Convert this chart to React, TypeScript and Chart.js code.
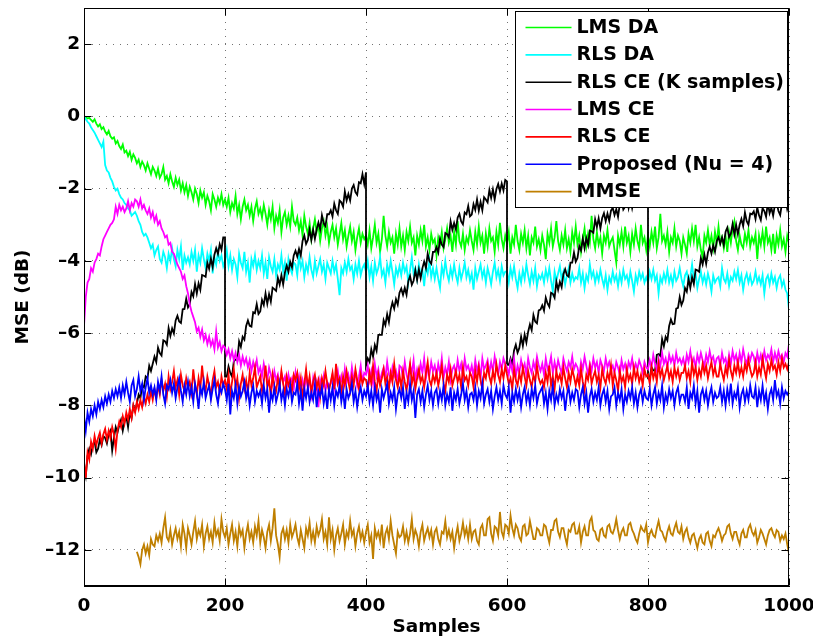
import React, { useEffect, useRef } from 'react';
import { Chart, registerables } from 'chart.js';

Chart.register(...registerables);

// ---- data (one value every SAMPLE_STEP samples, x = index * SAMPLE_STEP; 20 values per 50 samples) ----
const SAMPLE_STEP = 2.5;
const xTickValues = [0, 200, 400, 600, 800, 1000];
const yTickValues = [-12, -10, -8, -6, -4, -2, 0, 2];
const seriesNames = ['LMS DA', 'RLS DA', 'RLS CE (K samples)', 'LMS CE', 'RLS CE', 'Proposed (Nu = 4)', 'MMSE'];
const seriesColors = ['#00ff00', '#00ffff', '#000000', '#ff00ff', '#ff0000', '#0000ff', '#bf7f00'];

const lmsDA = [
  0, -0.02, -0.06, -0.04, -0.1, -0.15, -0.08, -0.2, -0.28, -0.22, -0.35, -0.3, -0.42, -0.5, -0.4, -0.55, -0.62, -0.58, -0.75, -0.68,
  -0.82, -0.9, -0.78, -1.0, -0.95, -1.1, -0.98, -1.2, -1.05, -1.15, -1.3, -1.2, -1.4, -1.25, -1.35, -1.5, -1.3, -1.45, -1.6, -1.4,
  -1.5, -1.65, -1.45, -1.7, -1.6, -1.4, -1.75, -1.65, -1.85, -1.6, -1.8, -1.95, -1.7, -1.9, -1.75, -2.05, -1.85, -2.1, -1.9, -2.2,
  -1.95, -2.1, -2.3, -2.0, -2.15, -2.4, -2.05, -2.25, -2.1, -2.45, -2.2, -2.35, -2.6, -2.15, -2.3, -2.5, -2.25, -2.4, -2.15, -2.45,
  -2.3, -2.5, -2.25, -2.65, -2.4, -2.55, -2.2, -2.7, -2.45, -2.85, -2.5, -2.3, -2.6, -2.45, -2.75, -2.5, -2.9, -2.55, -2.35, -2.7,
  -2.55, -2.8, -2.45, -2.7, -3.0, -2.6, -2.85, -2.5, -3.1, -2.75, -2.95, -2.6, -3.2, -2.8, -2.65, -3.0, -2.75, -3.05, -2.5, -2.9,
  -3.0, -2.8, -3.15, -2.9, -3.3, -2.75, -3.05, -3.25, -2.95, -3.4, -3.1, -2.85, -3.2, -3.0, -3.45, -3.1, -2.9, -3.3, -3.05, -3.5,
  -3.2, -3.0, -3.35, -3.1, -3.55, -3.25, -2.95, -3.4, -3.15, -3.6, -3.3, -3.05, -3.45, -3.2, -3.7, -3.35, -3.1, -3.5, -3.25, -3.4,
  -3.3, -3.55, -3.15, -3.65, -3.35, -3.0, -3.5, -3.25, -3.75, -3.4, -2.75, -3.3, -3.6, -3.2, -3.5, -3.35, -3.8, -3.25, -3.55, -3.1,
  -3.6, -3.3, -3.7, -3.2, -3.45, -3.05, -3.5, -3.35, -3.85, -3.3, -3.55, -3.15, -3.45, -3.0, -3.6, -3.35, -3.7, -3.25, -3.5, -3.4,
  -3.85, -3.35, -3.55, -3.2, -3.65, -3.4, -3.1, -3.5, -3.3, -3.75, -3.2, -3.55, -2.9, -3.45, -3.6, -3.25, -3.7, -3.35, -3.5, -3.15,
  -3.45, -3.7, -3.2, -3.55, -3.05, -3.5, -3.3, -3.8, -3.25, -3.6, -3.1, -3.45, -3.35, -3.75, -3.2, -3.55, -2.95, -3.4, -3.65, -3.3,
  -3.5, -3.2, -3.8, -3.35, -3.55, -3.0, -3.45, -3.7, -3.25, -3.5, -3.15, -3.65, -3.3, -3.85, -3.35, -3.5, -3.05, -3.6, -3.4, -3.7,
  -3.3, -3.55, -3.95, -3.25, -3.5, -3.1, -3.6, -3.35, -2.9, -3.45, -3.7, -3.3, -3.55, -3.15, -3.65, -3.4, -3.75, -3.2, -3.5, -3.05,
  -3.55, -3.3, -3.75, -3.4, -3.1, -3.6, -3.25, -3.5, -2.75, -3.4, -3.65, -3.2, -3.55, -3.35, -3.8, -3.3, -3.5, -3.15, -3.6, -3.45,
  -3.35, -3.7, -4.05, -3.3, -3.55, -3.2, -3.6, -3.05, -3.5, -3.3, -3.75, -3.25, -3.55, -3.1, -3.45, -3.65, -3.0, -3.5, -3.35, -3.7,
  -3.3, -3.6, -3.2, -3.5, -3.05, -3.65, -3.35, -2.7, -3.45, -3.3, -3.55, -3.2, -3.75, -3.35, -3.5, -3.1, -3.6, -3.3, -3.45, -3.8,
  -3.35, -3.55, -3.8, -3.25, -3.5, -3.1, -3.45, -3.0, -3.6, -3.35, -3.7, -3.9, -3.3, -3.5, -3.15, -3.55, -3.3, -3.65, -3.2, -3.5,
  -3.05, -3.5, -3.35, -3.65, -3.3, -3.75, -3.2, -3.5, -3.1, -2.9, -3.45, -3.7, -3.3, -3.55, -3.65, -3.25, -3.5, -3.15, -3.6, -3.35,
  -3.5, -3.25, -3.95, -3.3, -3.55, -3.2, -3.6, -3.05, -3.5, -3.35, -3.7, -3.25, -3.8, -3.3, -3.55, -3.15, -3.6, -3.4, -3.75, -3.3,
  -3.5,
];

const rlsDA = [
  0, -0.08, -0.15, -0.2, -0.3, -0.38, -0.45, -0.55, -0.65, -0.75, -0.85, -0.7, -1.35, -1.5, -1.55, -1.7, -1.8, -1.95, -2.05, -2.0,
  -2.15, -2.25, -2.3, -2.4, -2.45, -2.55, -2.6, -2.75, -2.7, -2.65, -2.75, -2.9, -3.0, -3.2, -3.3, -3.25, -3.35, -3.5, -3.65, -3.55,
  -3.85, -3.7, -3.6, -3.95, -4.05, -3.75, -3.9, -4.2, -3.8, -4.0, -3.65, -3.95, -4.15, -3.7, -3.95, -3.6, -4.25, -3.85, -4.05, -3.9,
  -4.1, -3.75, -4.0, -3.7, -4.3, -3.85, -4.05, -3.65, -3.95, -4.2, -3.8, -4.0, -3.7, -4.35, -3.9, -4.1, -3.75, -4.0, -3.85, -4.15,
  -4.0, -3.7, -4.15, -3.85, -4.25, -3.95, -4.1, -4.45, -3.8, -4.05, -4.2, -3.75, -4.3, -4.05, -4.6, -3.95, -4.15, -3.85, -4.25, -4.0,
  -4.2, -3.85, -4.35, -4.05, -4.5, -3.9, -4.15, -4.3, -3.95, -4.4, -4.1, -4.25, -3.85, -4.3, -4.05, -4.55, -3.95, -4.2, -4.35, -4.05,
  -4.1, -4.4, -3.85, -4.2, -4.0, -4.45, -4.1, -4.3, -3.9, -4.25, -4.45, -4.0, -4.35, -4.15, -3.95, -4.3, -4.1, -4.5, -4.05, -4.2,
  -4.35, -4.0, -4.3, -4.1, -4.5, -4.95, -4.2, -4.35, -4.05, -4.3, -3.95, -4.25, -4.15, -4.5, -4.1, -4.35, -4.0, -4.4, -4.2, -4.1,
  -4.3, -4.0, -4.45, -4.15, -4.55, -4.05, -4.35, -4.2, -3.9, -4.4, -4.25, -4.6, -4.1, -4.35, -4.0, -4.3, -4.65, -4.2, -4.4, -4.15,
  -4.4, -4.05, -4.3, -4.15, -4.6, -4.25, -3.9, -4.35, -4.2, -4.5, -4.1, -4.4, -4.25, -4.7, -4.15, -4.35, -4.0, -4.45, -4.2, -4.5,
  -4.2, -4.5, -4.75, -4.15, -4.4, -4.0, -4.35, -4.55, -4.2, -4.45, -4.1, -4.4, -4.6, -4.2, -4.5, -4.3, -4.05, -4.45, -4.25, -4.55,
  -4.35, -4.8, -4.2, -4.5, -4.3, -4.1, -4.45, -4.25, -4.6, -4.2, -4.4, -4.65, -4.3, -4.05, -4.45, -4.25, -4.55, -4.15, -4.4, -4.3,
  -4.3, -4.6, -4.2, -4.45, -4.15, -4.5, -4.75, -4.35, -4.6, -4.25, -4.5, -4.1, -4.4, -4.65, -4.3, -4.55, -4.2, -4.7, -4.4, -4.5,
  -4.35, -4.6, -4.25, -4.5, -4.2, -4.55, -4.85, -4.3, -4.55, -4.35, -4.15, -4.5, -4.3, -4.65, -4.4, -4.2, -4.6, -4.35, -4.55, -4.45,
  -4.5, -4.2, -4.6, -4.35, -4.75, -4.4, -4.55, -4.1, -4.45, -4.3, -4.6, -4.35, -4.55, -4.25, -4.5, -4.7, -4.4, -4.8, -4.45, -4.6,
  -4.3, -4.55, -4.4, -4.7, -4.35, -4.6, -4.25, -4.5, -4.4, -4.65, -4.3, -4.55, -4.85, -4.4, -4.6, -4.3, -4.5, -4.35, -4.6, -4.45,
  -4.6, -4.3, -4.5, -4.25, -4.55, -4.4, -4.9, -4.45, -4.6, -4.35, -4.55, -4.25, -4.6, -4.4, -4.65, -4.3, -4.55, -4.45, -4.2, -4.5,
  -4.7, -4.4, -4.3, -4.6, -4.45, -4.1, -4.5, -4.35, -4.75, -4.5, -4.3, -4.6, -4.4, -4.65, -4.35, -4.55, -4.85, -4.4, -4.6, -4.5,
  -4.45, -4.7, -4.2, -4.5, -4.6, -4.35, -4.7, -4.45, -4.55, -4.3, -4.5, -4.25, -4.6, -4.4, -4.8, -4.5, -4.35, -4.6, -4.4, -4.65,
  -4.55, -4.3, -4.6, -4.45, -4.65, -4.4, -4.9, -4.5, -4.4, -4.65, -4.35, -4.6, -4.45, -4.75, -4.5, -4.4, -4.7, -4.55, -4.8, -4.9,
  -5.35,
];

const rlsCeK = [
  -9.7, -9.95, -9.4, -9.2, -9.35, -9.1, -9.0, -9.3, -9.2, -8.95, -9.1, -8.85, -8.9, -9.05, -8.8, -8.7, -9.25, -8.9, -8.6, -8.75,
  -8.55, -8.4, -8.7, -8.45, -8.3, -8.6, -8.2, -8.35, -8.0, -8.15, -7.95, -7.7, -7.8, -7.45, -7.5, -7.2, -7.25, -6.9, -7.05, -6.85,
  -6.65, -6.8, -6.4, -6.55, -6.62, -6.2, -6.23, -6.32, -5.86, -6.08, -5.87, -6.01, -5.65, -5.52, -5.68, -5.72, -5.34, -5.33, -5.05, -5.29,
  -5.2, -4.86, -4.98, -4.64, -4.9, -4.62, -4.8, -4.39, -4.41, -4.44, -4.05, -4.22, -3.94, -4.17, -3.83, -3.65, -3.81, -3.54, -3.69, -3.35,
  -3.35, -7.2, -6.92, -7.1, -7.2, -6.78, -6.73, -6.75, -6.23, -6.38, -6.1, -6.18, -5.8, -5.65, -5.8, -5.82, -5.42, -5.45, -5.2, -5.47,
  -5.4, -5.08, -5.22, -4.9, -5.19, -4.92, -5.13, -4.74, -4.78, -4.83, -4.47, -4.66, -4.4, -4.65, -4.32, -4.13, -4.3, -4.03, -4.18, -3.85,
  -3.72, -3.88, -3.67, -3.85, -3.45, -3.3, -3.53, -3.42, -3.14, -3.42, -3.14, -3.39, -3.12, -2.94, -3.13, -2.74, -2.96, -3.04, -2.71, -2.71,
  -2.6, -2.77, -2.42, -2.6, -2.7, -2.33, -2.38, -2.5, -2.08, -2.33, -2.15, -2.33, -2.0, -1.9, -2.1, -2.17, -1.82, -1.85, -1.6, -1.87,
  -1.55, -6.7, -6.8, -6.45, -6.65, -6.33, -6.49, -6.05, -6.05, -6.05, -5.64, -5.78, -5.48, -5.7, -5.35, -5.15, -5.32, -5.06, -5.21, -4.88,
  -4.77, -4.94, -4.75, -4.94, -4.56, -4.42, -4.66, -4.55, -4.26, -4.53, -4.24, -4.48, -4.2, -4.02, -4.2, -3.8, -4.01, -4.08, -3.75, -3.75,
  -3.62, -3.77, -3.39, -3.55, -3.62, -3.23, -3.26, -3.35, -2.91, -3.14, -2.95, -3.13, -2.8, -2.7, -2.91, -2.99, -2.66, -2.71, -2.48, -2.77,
  -2.72, -2.43, -2.59, -2.3, -2.61, -2.37, -2.6, -2.24, -2.3, -2.38, -2.04, -2.26, -2.02, -2.3, -2.01, -1.87, -2.08, -1.86, -2.05, -1.76,
  -1.8, -6.88, -6.7, -6.88, -6.48, -6.32, -6.54, -6.41, -6.1, -6.35, -6.04, -6.26, -5.96, -5.76, -5.92, -5.5, -5.68, -5.73, -5.37, -5.35,
  -5.23, -5.38, -5.02, -5.18, -5.27, -4.88, -4.91, -5.02, -4.58, -4.8, -4.58, -4.73, -4.37, -4.23, -4.4, -4.44, -4.05, -4.05, -3.77, -4.02,
  -3.92, -3.59, -3.71, -3.38, -3.65, -3.37, -3.56, -3.16, -3.18, -3.22, -2.85, -3.06, -2.82, -3.1, -2.81, -2.68, -2.9, -2.69, -2.89, -2.61,
  -2.53, -2.73, -2.57, -2.78, -2.43, -2.32, -2.58, -2.5, -2.24, -2.53, -2.27, -2.54, -2.28, -2.13, -2.34, -1.96, -2.2, -2.3, -1.98, -2.0,
  -1.95, -7.25, -6.94, -7.03, -7.05, -6.6, -6.58, -6.63, -6.16, -6.36, -6.1, -6.2, -5.8, -5.62, -5.75, -5.74, -5.32, -5.3, -5.0, -5.22,
  -5.1, -4.75, -4.85, -4.5, -4.75, -4.45, -4.64, -4.24, -4.26, -4.3, -3.92, -4.1, -3.83, -4.08, -3.77, -3.61, -3.8, -3.57, -3.75, -3.45,
  -3.35, -3.53, -3.35, -3.56, -3.2, -3.08, -3.34, -3.25, -2.98, -3.27, -3.0, -3.26, -3.0, -2.84, -3.04, -2.66, -2.9, -3.0, -2.69, -2.71,
  -2.63, -2.84, -2.52, -2.74, -2.87, -2.54, -2.62, -2.78, -2.39, -2.68, -2.53, -2.75, -2.45, -2.39, -2.62, -2.73, -2.41, -2.48, -2.26, -2.57,
  -2.4,
];
// re-training instants of "RLS CE (K samples)" and the MSE right after them
const rlsCeKResets = [200, 400, 600, 800];
const rlsCeKResetLows = [-7.2, -6.9, -6.85, -7.25];

const lmsCE = [
  -5.8, -5.0, -4.6, -4.5, -4.2, -4.3, -4.05, -3.95, -3.8, -3.85, -3.6, -3.4, -3.3, -3.2, -3.1, -3.0, -2.95, -2.85, -2.5, -2.7,
  -2.45, -2.6, -2.5, -2.65, -2.55, -2.35, -2.6, -2.4, -2.5, -2.3, -2.35, -2.5, -2.3, -2.55, -2.45, -2.6, -2.7, -2.55, -2.8, -2.65,
  -2.9, -2.75, -3.0, -2.9, -3.1, -3.2, -3.35, -3.3, -3.55, -3.5, -3.75, -3.8, -3.95, -4.1, -4.2, -4.3, -4.5, -4.4, -4.7, -4.9,
  -5.2, -5.4, -5.55, -5.7, -5.95, -5.85, -6.1, -5.9, -6.2, -6.05, -6.3, -6.1, -6.35, -6.2, -6.45, -5.95, -6.4, -6.25, -6.5, -6.35,
  -6.4, -6.6, -6.45, -6.7, -6.5, -6.75, -6.55, -6.8, -6.6, -6.9, -6.65, -6.85, -6.7, -6.95, -6.75, -7.05, -6.8, -7.0, -6.75, -7.1,
  -6.95, -7.2, -6.85, -7.1, -7.3, -6.95, -7.15, -7.4, -7.05, -7.3, -7.15, -7.45, -7.1, -7.35, -7.2, -7.5, -7.15, -7.4, -7.25, -7.55,
  -7.1, -7.45, -7.2, -7.55, -7.3, -7.6, -7.15, -7.5, -7.3, -7.7, -7.25, -7.55, -7.35, -8.05, -7.3, -7.5, -7.2, -7.6, -7.35, -7.45,
  -7.4, -7.15, -7.55, -7.3, -7.05, -7.45, -7.2, -7.5, -7.0, -7.35, -7.15, -7.4, -6.95, -7.3, -7.1, -7.45, -7.2, -6.9, -7.35, -7.1,
  -7.15, -6.9, -7.3, -7.05, -7.4, -6.85, -7.2, -7.0, -7.35, -7.1, -6.95, -7.25, -6.8, -7.15, -7.3, -6.95, -7.2, -7.05, -7.35, -6.9,
  -6.95, -7.25, -6.8, -7.15, -7.35, -6.9, -7.1, -6.75, -7.3, -7.0, -7.2, -6.85, -7.1, -6.7, -7.25, -6.95, -7.15, -6.8, -7.05, -6.9,
  -7.2, -6.85, -7.1, -6.7, -7.25, -6.95, -7.15, -6.8, -7.3, -7.0, -6.9, -7.15, -6.75, -7.05, -6.85, -7.2, -6.7, -7.0, -6.9, -7.1,
  -6.9, -7.2, -6.75, -7.05, -6.85, -7.25, -6.7, -7.0, -6.9, -6.75, -7.1, -6.8, -7.05, -6.65, -6.95, -7.15, -6.8, -7.0, -6.7, -6.85,
  -6.95, -7.15, -6.8, -7.05, -6.7, -7.2, -6.9, -7.1, -6.75, -7.0, -6.85, -7.15, -6.7, -6.95, -7.1, -6.8, -7.0, -6.65, -6.9, -7.05,
  -6.85, -7.15, -6.7, -7.0, -6.9, -6.65, -7.1, -6.8, -7.05, -6.75, -6.95, -7.1, -6.7, -6.9, -7.05, -6.8, -6.95, -6.65, -7.0, -6.85,
  -6.95, -7.2, -6.8, -7.0, -6.65, -6.9, -7.15, -6.85, -7.05, -6.7, -6.95, -6.8, -7.1, -6.75, -6.9, -7.05, -6.7, -6.95, -6.8, -7.0,
  -6.9, -7.1, -6.8, -6.95, -7.15, -6.75, -7.0, -6.85, -7.1, -6.8, -6.95, -6.7, -7.05, -6.85, -7.0, -6.75, -6.9, -7.1, -6.8, -6.95,
  -7.0, -6.75, -6.95, -6.6, -6.85, -7.05, -6.7, -6.9, -6.55, -6.85, -6.7, -6.95, -6.6, -6.8, -6.65, -6.9, -6.55, -6.8, -6.7, -6.85,
  -6.7, -6.95, -6.6, -6.8, -6.5, -6.85, -6.7, -6.95, -6.6, -6.8, -6.55, -6.75, -6.9, -6.6, -6.8, -6.5, -6.75, -6.65, -6.9, -6.7,
  -6.65, -6.9, -6.55, -6.8, -6.7, -6.95, -6.6, -6.85, -6.5, -6.75, -6.6, -6.9, -6.55, -6.8, -6.45, -6.7, -6.85, -6.6, -6.75, -6.55,
  -6.65, -6.9, -6.55, -6.8, -6.6, -6.85, -6.5, -6.75, -6.6, -6.7, -6.45, -6.8, -6.55, -6.75, -6.5, -6.7, -6.6, -6.8, -6.55, -6.65,
  -6.3,
];

const rlsCE = [
  -9.6, -10.0, -9.3, -9.5, -9.0, -9.2, -8.85, -9.1, -8.9, -8.75, -9.05, -8.8, -8.65, -8.95, -8.7, -8.9, -8.6, -8.8, -9.2, -8.7,
  -8.45, -8.6, -8.3, -8.5, -8.2, -8.4, -8.1, -8.35, -8.0, -8.2, -7.9, -8.1, -7.85, -8.05, -7.75, -7.95, -7.7, -7.9, -7.6, -7.85,
  -7.55, -7.8, -7.45, -7.7, -7.3, -7.6, -7.4, -7.75, -7.2, -7.55, -7.35, -7.05, -7.5, -7.3, -7.7, -7.15, -7.45, -7.6, -7.25, -7.5,
  -7.35, -7.65, -7.0, -7.45, -7.7, -7.25, -7.55, -6.9, -7.4, -7.6, -7.2, -7.45, -7.75, -7.3, -7.05, -7.5, -7.35, -7.65, -7.2, -7.45,
  -7.3, -7.55, -7.15, -7.7, -7.35, -7.0, -7.5, -7.25, -7.8, -7.4, -7.15, -7.55, -7.3, -7.65, -7.1, -7.45, -7.25, -6.95, -7.5, -7.35,
  -7.2, -7.6, -7.35, -6.9, -7.5, -7.3, -7.75, -7.15, -7.45, -7.6, -7.25, -7.5, -7.05, -7.4, -7.7, -7.2, -7.45, -7.3, -7.6, -7.15,
  -7.3, -7.1, -7.55, -7.25, -7.8, -7.4, -7.0, -7.5, -7.2, -7.65, -7.35, -7.15, -7.5, -7.3, -7.75, -7.25, -7.45, -7.05, -7.4, -7.6,
  -7.35, -7.1, -7.55, -6.85, -7.4, -7.25, -7.7, -7.2, -7.45, -7.05, -7.35, -7.6, -7.2, -7.45, -7.0, -7.3, -7.55, -7.15, -7.4, -7.25,
  -7.3, -7.55, -7.1, -7.4, -6.9, -7.35, -7.6, -7.15, -7.45, -7.25, -7.0, -7.4, -7.2, -7.55, -7.1, -7.35, -6.85, -7.3, -7.5, -7.15,
  -7.5, -7.05, -7.35, -7.6, -7.2, -6.85, -7.4, -7.15, -7.55, -7.25, -7.0, -7.35, -7.2, -7.5, -7.1, -6.8, -7.3, -7.45, -7.15, -7.35,
  -7.1, -7.45, -7.2, -6.9, -7.4, -7.6, -7.15, -7.35, -7.0, -7.45, -7.25, -7.05, -7.35, -7.15, -7.5, -6.95, -7.3, -7.2, -7.45, -7.1,
  -7.2, -7.5, -7.05, -7.35, -6.95, -7.3, -7.55, -7.1, -7.25, -6.9, -7.2, -7.4, -7.05, -7.3, -6.85, -7.15, -7.35, -7.0, -7.25, -6.9,
  -7.15, -7.4, -7.25, -7.55, -7.0, -7.3, -7.45, -7.1, -7.35, -6.95, -7.2, -7.45, -7.05, -7.3, -7.5, -7.15, -7.35, -6.9, -7.25, -7.4,
  -7.3, -7.5, -7.1, -7.35, -6.9, -7.45, -7.2, -7.55, -7.05, -7.3, -7.15, -7.4, -6.95, -7.25, -7.5, -7.1, -7.35, -7.0, -7.2, -7.45,
  -7.2, -7.45, -7.0, -7.35, -7.6, -7.15, -7.3, -6.95, -7.4, -7.2, -7.05, -7.35, -7.15, -7.5, -7.0, -7.25, -7.4, -7.1, -7.3, -6.9,
  -7.45, -7.1, -7.3, -7.6, -7.05, -7.35, -7.2, -7.5, -7.0, -7.3, -7.15, -7.4, -6.95, -7.25, -7.05, -7.35, -7.15, -7.45, -7.0, -7.2,
  -7.15, -7.4, -6.95, -7.25, -7.05, -7.35, -6.85, -7.2, -7.0, -7.3, -7.1, -6.9, -7.25, -7.05, -7.35, -6.95, -7.2, -7.0, -7.3, -7.1,
  -7.1, -6.9, -7.25, -7.05, -7.35, -6.8, -7.15, -6.95, -7.3, -7.0, -7.2, -6.85, -7.1, -6.9, -7.25, -7.0, -6.8, -7.15, -6.95, -7.2,
  -7.2, -6.85, -7.1, -7.3, -6.95, -7.15, -6.75, -7.05, -7.25, -6.9, -7.1, -6.8, -7.15, -6.95, -7.2, -6.85, -7.05, -6.75, -7.0, -7.2,
  -7.1, -6.8, -7.2, -6.95, -7.15, -6.7, -7.0, -7.25, -6.85, -7.05, -6.75, -7.0, -6.9, -7.15, -6.8, -7.05, -6.7, -6.95, -6.85, -7.0,
  -6.8,
];

const proposed = [
  -8.3, -8.7, -8.2, -8.45, -8.1, -8.3, -8.0, -8.25, -7.9, -8.1, -7.85, -8.05, -7.75, -7.95, -7.7, -7.9, -7.6, -7.8, -7.55, -7.75,
  -7.5, -7.8, -7.45, -7.7, -7.35, -7.65, -7.9, -7.45, -7.3, -7.75, -7.55, -7.2, -7.6, -7.4, -7.85, -7.5, -7.25, -7.65, -7.45, -7.7,
  -7.5, -7.85, -7.35, -7.6, -7.2, -7.7, -7.95, -7.45, -7.55, -7.3, -7.65, -7.4, -7.8, -7.5, -7.25, -7.6, -7.9, -7.45, -7.7, -7.35,
  -7.75, -7.5, -7.9, -7.4, -7.65, -8.1, -7.5, -7.7, -7.35, -7.8, -7.6, -7.45, -7.85, -7.55, -7.3, -7.7, -7.95, -7.5, -7.65, -7.4,
  -7.55, -7.85, -7.4, -8.25, -7.6, -7.8, -7.45, -7.95, -7.5, -7.75, -7.6, -7.35, -7.8, -7.55, -8.0, -7.65, -7.45, -7.9, -7.6, -7.75,
  -7.6, -7.95, -7.45, -7.8, -7.55, -8.2, -7.65, -7.85, -7.5, -7.9, -7.7, -7.4, -7.85, -7.6, -8.0, -7.55, -7.75, -7.45, -7.9, -7.65,
  -7.7, -7.4, -7.95, -7.6, -8.15, -7.55, -7.8, -7.5, -7.9, -7.65, -7.85, -7.45, -8.05, -7.6, -7.75, -7.5, -7.95, -7.65, -8.1, -7.55,
  -7.85, -7.5, -8.0, -7.6, -7.75, -7.45, -7.9, -7.6, -8.1, -7.55, -7.8, -7.65, -7.4, -7.9, -7.6, -8.05, -7.7, -7.5, -7.85, -7.6,
  -7.75, -7.45, -7.9, -7.6, -8.0, -7.5, -7.85, -7.65, -8.2, -7.55, -7.8, -7.6, -7.4, -7.95, -7.65, -7.85, -7.5, -8.1, -7.7, -7.55,
  -7.8, -7.5, -8.1, -7.65, -7.9, -7.4, -7.85, -7.6, -8.35, -7.7, -7.55, -7.9, -7.6, -8.05, -7.7, -7.45, -7.85, -7.6, -8.0, -7.65,
  -7.55, -7.95, -7.6, -7.85, -7.45, -8.0, -7.7, -7.9, -7.5, -8.15, -7.65, -7.85, -7.55, -7.95, -7.7, -7.4, -7.85, -7.6, -8.05, -7.7,
  -7.65, -7.85, -7.5, -8.0, -7.6, -7.8, -7.4, -7.95, -7.7, -7.55, -7.9, -7.6, -8.1, -7.75, -7.5, -7.85, -7.6, -7.95, -7.45, -7.7,
  -7.8, -7.5, -8.2, -7.65, -7.9, -7.55, -7.85, -7.6, -8.05, -7.7, -7.5, -7.9, -7.65, -8.0, -7.55, -7.8, -7.45, -7.95, -7.7, -7.6,
  -7.5, -7.95, -7.65, -8.1, -7.6, -7.85, -7.45, -8.0, -7.7, -7.9, -7.55, -7.8, -7.6, -8.15, -7.7, -7.5, -7.9, -7.65, -7.85, -7.55,
  -7.6, -8.05, -7.7, -7.5, -7.95, -7.65, -8.2, -7.75, -7.55, -7.9, -7.65, -7.85, -7.5, -8.0, -7.7, -7.55, -7.9, -7.6, -8.1, -7.75,
  -7.7, -7.5, -8.0, -7.65, -7.85, -7.55, -8.1, -7.7, -7.9, -7.6, -7.8, -7.5, -7.95, -7.65, -8.05, -7.7, -7.55, -7.9, -7.6, -7.8,
  -7.85, -7.55, -8.0, -7.7, -7.5, -7.95, -7.65, -7.85, -7.45, -8.05, -7.7, -7.9, -7.55, -7.8, -7.6, -8.0, -7.65, -7.5, -7.9, -7.7,
  -7.7, -7.9, -7.5, -8.1, -7.65, -7.8, -7.45, -7.95, -7.6, -8.2, -7.7, -7.55, -7.85, -7.6, -8.0, -7.7, -7.5, -7.9, -7.65, -7.8,
  -7.75, -7.5, -7.9, -7.6, -8.0, -7.55, -7.85, -7.4, -7.95, -7.65, -7.8, -7.5, -8.05, -7.7, -7.55, -7.9, -7.6, -7.85, -7.45, -7.75,
  -7.8, -7.5, -8.05, -7.6, -7.85, -7.45, -7.9, -7.65, -8.1, -7.7, -7.55, -7.85, -7.3, -7.75, -7.6, -7.95, -7.5, -7.8, -7.6, -7.7,
  -7.6,
];

const mmse = [
  null, null, null, null, null, null, null, null, null, null, null, null, null, null, null, null, null, null, null, null,
  null, null, null, null, null, null, null, null, null, null, -12.05, -12.2, -12.4, -12.0, -11.85, -12.1, -11.9, -12.15, -11.7, -11.85,
  -11.9, -11.6, -11.75, -11.55, -11.8, -11.4, -11.1, -11.65, -11.75, -11.45, -11.85, -11.6, -11.4, -11.7, -11.5, -11.9, -11.3, -11.55, -11.95, -11.4,
  -11.6, -11.85, -11.5, -11.2, -11.7, -11.45, -11.6, -11.3, -11.9, -11.55, -11.35, -11.7, -11.5, -11.8, -11.25, -11.6, -11.45, -11.75, -11.15, -11.5,
  -11.65, -11.4, -11.85, -11.55, -11.3, -11.75, -11.5, -11.9, -11.35, -11.6, -11.45, -11.95, -11.55, -11.3, -11.7, -11.5, -11.8, -11.35, -11.6, -11.2,
  -11.8, -11.45, -11.65, -11.95, -11.5, -11.3, -11.75, -11.4, -10.85, -11.6, -11.85, -12.2, -11.55, -11.4, -11.7, -11.45, -11.8, -11.3, -11.65, -11.5,
  -11.3, -11.65, -11.85, -11.45, -11.7, -11.95, -11.4, -11.6, -11.25, -11.75, -11.5, -11.8, -11.35, -11.6, -11.45, -11.15, -11.7, -11.5, -11.85, -11.1,
  -11.7, -11.45, -12.0, -11.6, -11.4, -11.75, -11.55, -11.3, -11.85, -11.5, -11.65, -11.2, -11.6, -11.45, -11.9, -11.55, -11.35, -11.7, -11.5, -11.8,
  -11.5, -11.3, -11.8, -11.6, -12.25, -11.4, -11.65, -11.5, -11.75, -11.3, -11.95, -11.55, -11.4, -11.7, -11.2, -11.6, -11.85, -12.1, -11.5, -11.65,
  -11.6, -11.35, -11.75, -11.5, -11.8, -11.55, -11.15, -11.7, -11.45, -11.6, -11.9, -11.5, -11.3, -11.75, -11.55, -11.4, -11.65, -11.45, -11.85, -11.5,
  -11.4, -11.7, -11.85, -11.5, -11.55, -11.2, -11.65, -11.45, -11.7, -11.5, -11.95, -11.6, -11.35, -11.75, -11.55, -11.25, -11.6, -11.4, -11.7, -11.3,
  -11.7, -11.5, -11.45, -11.75, -11.85, -11.4, -11.3, -11.6, -11.6, -11.15, -11.1, -11.55, -11.75, -11.35, -11.4, -11.6, -10.95, -11.5, -11.65, -11.3,
  -11.35, -11.55, -11.05, -11.4, -11.6, -11.3, -11.4, -11.65, -11.75, -11.35, -11.3, -11.6, -11.55, -11.2, -11.45, -11.7, -11.7, -11.4, -11.45, -11.6,
  -11.6, -11.3, -11.35, -11.6, -11.8, -11.45, -11.45, -11.2, -11.15, -11.5, -11.65, -11.4, -11.4, -11.65, -11.85, -11.45, -11.5, -11.3, -11.25, -11.55,
  -11.55, -11.35, -11.8, -11.5, -11.35, -11.6, -11.6, -11.2, -11.1, -11.45, -11.5, -11.7, -11.75, -11.45, -11.4, -11.6, -11.65, -11.35, -11.3, -11.5,
  -11.55, -11.4, -11.15, -11.45, -11.7, -11.5, -11.4, -11.6, -11.6, -11.3, -11.25, -11.45, -11.55, -11.7, -11.8, -11.55, -11.35, -11.45, -11.5, -11.3,
  -11.8, -11.55, -11.45, -11.6, -11.65, -11.4, -11.2, -11.45, -11.5, -11.65, -11.75, -11.5, -11.35, -11.55, -11.6, -11.4, -11.25, -11.5, -11.55, -11.35,
  -11.7, -11.5, -11.4, -11.65, -11.8, -11.6, -11.55, -11.75, -11.95, -11.7, -11.6, -11.8, -11.85, -11.55, -11.5, -11.75, -11.9, -11.6, -11.65, -11.5,
  -11.4, -11.55, -11.75, -11.6, -11.55, -11.35, -11.3, -11.55, -11.7, -11.5, -11.5, -11.7, -11.85, -11.55, -11.45, -11.65, -11.65, -11.4, -11.3, -11.5,
  -11.6, -11.45, -11.8, -11.65, -11.45, -11.55, -11.7, -11.85, -11.6, -11.45, -11.4, -11.55, -11.65, -11.45, -11.5, -11.75, -11.6, -11.7, -11.55, -11.85,
  -12.1,
];

const seriesValues = [lmsDA, rlsDA, rlsCeK, lmsCE, rlsCE, proposed, mmse];

type Pt = { x: number; y: number | null };

function toPoints(vals: (number | null)[], resets?: number[], lows?: number[]): Pt[] {
  const pts: Pt[] = [];
  vals.forEach((v, i) => {
    const x = i * SAMPLE_STEP;
    pts.push({ x, y: v });
    if (resets && lows) {
      const r = resets.indexOf(x);
      if (r >= 0) pts.push({ x, y: lows[r] });
    }
  });
  return pts;
}

const FONT = "'DejaVu Sans', sans-serif";

const framePlugin = {
  id: 'matlabFrame',
  afterDatasetsDraw(chart: any) {
    const { ctx, chartArea: a, scales } = chart;
    const L = Math.round(a.left) + 0.5;
    const R = Math.round(a.right) - 0.5;
    const T = Math.round(a.top) + 0.5;
    const B = Math.round(a.bottom) - 0.5;
    ctx.save();
    ctx.strokeStyle = '#000';
    ctx.lineWidth = 1;
    ctx.setLineDash([]);
    ctx.strokeRect(L, T, R - L, B - T);
    const tick = 7;
    ctx.beginPath();
    xTickValues.forEach((v) => {
      const px = Math.round(scales.x.getPixelForValue(v)) + 0.5;
      ctx.moveTo(px, B); ctx.lineTo(px, B - tick);
      ctx.moveTo(px, T); ctx.lineTo(px, T + tick);
    });
    yTickValues.forEach((v) => {
      const py = Math.round(scales.y.getPixelForValue(v)) + 0.5;
      ctx.moveTo(L, py); ctx.lineTo(L + tick, py);
      ctx.moveTo(R, py); ctx.lineTo(R - tick, py);
    });
    ctx.stroke();

    // legend box (inside the axes, top-right, opaque)
    const boxR = Math.round(a.right) - 1.5;
    const boxT = Math.round(a.top) + 3.5;
    const boxW = 272;
    const rowH = 27.35;
    const boxH = 196;
    const boxL = boxR - boxW;
    ctx.fillStyle = '#ffffff';
    ctx.fillRect(boxL, boxT, boxW, boxH);
    ctx.strokeStyle = '#000';
    ctx.strokeRect(boxL, boxT, boxW, boxH);
    ctx.font = `bold 19px ${FONT}`;
    ctx.textBaseline = 'middle';
    ctx.textAlign = 'left';
    seriesNames.forEach((name, i) => {
      const cy = boxT + 16 + i * rowH;
      ctx.strokeStyle = seriesColors[i];
      ctx.lineWidth = 1.6;
      ctx.beginPath();
      ctx.moveTo(boxL + 10, cy);
      ctx.lineTo(boxL + 56, cy);
      ctx.stroke();
      ctx.fillStyle = '#000';
      ctx.fillText(name, boxL + 61, cy + 0.5);
    });
    ctx.restore();
  },
};

export default function App() {
  const ref = useRef<HTMLCanvasElement | null>(null);

  useEffect(() => {
    if (!ref.current) return;
    const datasets = seriesValues.map((vals, i) => ({
      label: seriesNames[i],
      data: i === 2 ? toPoints(vals, rlsCeKResets, rlsCeKResetLows) : toPoints(vals),
      borderColor: seriesColors[i],
      backgroundColor: seriesColors[i],
      borderWidth: 1.8,
      pointRadius: 0,
      tension: 0,
      fill: false,
      spanGaps: false,
      order: seriesValues.length - i,
    }));

    const chart = new Chart(ref.current, {
      type: 'line',
      data: { datasets },
      plugins: [framePlugin],
      options: {
        animation: false,
        responsive: false,
        devicePixelRatio: 1,
        parsing: false as any,
        normalized: true,
        layout: { padding: { top: 8, right: 24, left: 0, bottom: 0 } },
        plugins: { legend: { display: false }, tooltip: { enabled: false } },
        scales: {
          x: {
            type: 'linear',
            min: 0,
            max: 1000,
            afterBuildTicks: (s: any) => { s.ticks = xTickValues.map((v) => ({ value: v })); },
            afterFit: (s: any) => { s.height = 53; s.paddingLeft = 0; s.paddingRight = 0; },
            ticks: {
              color: '#000',
              padding: 9,
              maxRotation: 0,
              autoSkip: false,
              font: { family: FONT, size: 18.5, weight: 'bold' },
              callback: (v: any) => String(v),
            },
            grid: { color: 'rgba(0,0,0,0.55)', lineWidth: 1, drawTicks: false },
            border: { display: true, color: '#000', width: 1, dash: [1, 6] },
            title: {
              display: true,
              text: 'Samples',
              color: '#000',
              font: { family: FONT, size: 18.5, weight: 'bold' },
              padding: { top: 0, bottom: 1 },
            },
          },
          y: {
            type: 'linear',
            min: -13,
            max: 3,
            afterBuildTicks: (s: any) => { s.ticks = yTickValues.map((v) => ({ value: v })); },
            afterFit: (s: any) => { s.width = 84; s.paddingTop = 0; s.paddingBottom = 0; },
            ticks: {
              color: '#000',
              padding: 4,
              autoSkip: false,
              font: { family: FONT, size: 18.5, weight: 'bold' },
              callback: (v: any) => String(v).replace('-', '\u2013'),
            },
            grid: { color: 'rgba(0,0,0,0.55)', lineWidth: 1, drawTicks: false },
            border: { display: true, color: '#000', width: 1, dash: [1, 6] },
            title: {
              display: true,
              text: 'MSE (dB)',
              color: '#000',
              font: { family: FONT, size: 18.5, weight: 'bold' },
              padding: { top: 12, bottom: 0 },
            },
          },
        },
      } as any,
    });
    return () => chart.destroy();
  }, []);

  return (
    <div style={{ position: 'fixed', left: 0, top: 0, width: 813, height: 639, background: '#fff' }}>
      <canvas ref={ref} width={813} height={639} style={{ display: 'block', width: 813, height: 639 }} />
    </div>
  );
}
